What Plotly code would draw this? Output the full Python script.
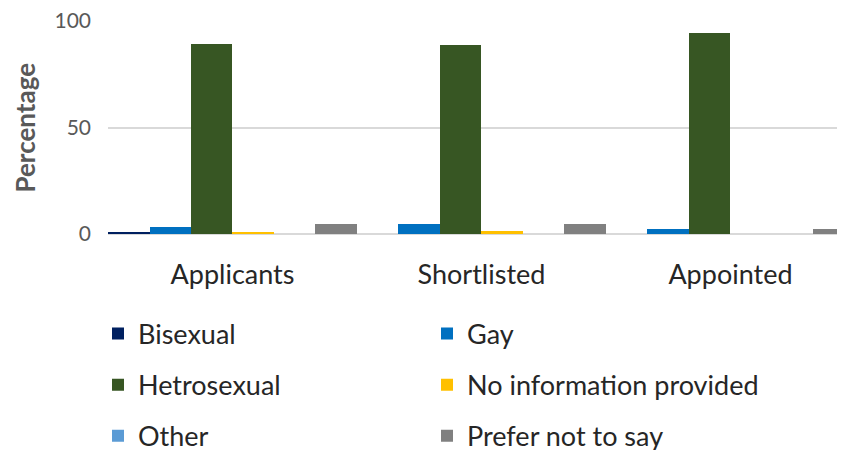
import plotly.graph_objects as go

# ─── Data ─────────────────────────────────────────────────────────────────────
STAGES = ["Applicants", "Shortlisted", "Appointed"]

bisexual     = [1.0, 0.0, 0.0]
gay          = [3.4, 4.6, 2.2]
hetrosexual  = [89.2, 88.7, 94.2]
no_info      = [0.8, 1.5, 0.0]
other        = [0.0, 0.0, 0.0]
prefer_not   = [4.6, 4.6, 2.2]

Y_TICKS = [0, 50, 100]
Y_TITLE = "Percentage"

# ─── Style ────────────────────────────────────────────────────────────────────
COLORS = {
    "Bisexual":                "#002060",
    "Gay":                     "#0070C0",
    "Hetrosexual":             "#375623",
    "No information provided": "#FFC000",
    "Other":                   "#5B9BD5",
    "Prefer not to say":       "#808080",
    "grid":                    "#D9D9D9",
    "axis_text":               "#595959",
    "text":                    "#262626",
}
FONT = "Lato, Carlito, Calibri, sans-serif"

# page has an 8px body margin, so the figure is drawn 8px smaller and offset
W, H = 837, 442
MARGIN_L = 100

series = ["Bisexual", "Gay", "Hetrosexual", "No information provided",
          "Other", "Prefer not to say"]
values = [bisexual, gay, hetrosexual, no_info, other, prefer_not]

# two legend columns, three rows each (container pixels, figure coords)
COL_X = [90, 419]
LEG_TOP = 301.5

fig = go.Figure()
for i, (name, vals) in enumerate(zip(series, values)):
    fig.add_trace(go.Bar(
        x=STAGES, y=vals, name=name,
        marker=dict(color=COLORS[name], line=dict(width=0)),
        legend="legend" if i % 2 == 0 else "legend2",
        legendgroup=name,
    ))

legend_common = dict(
    orientation="v", xref="container", yref="container",
    y=1 - LEG_TOP / H, xanchor="left", yanchor="top",
    tracegroupgap=13,
    font=dict(size=27, color=COLORS["text"], family=FONT),
    bgcolor="rgba(0,0,0,0)", itemclick=False,
)

# y-axis title as a rotated label left of the tick labels
fig.add_annotation(
    text=f"<b>{Y_TITLE}</b>", textangle=-90,
    xref="paper", yref="paper",
    x=(16 - MARGIN_L) / (W - MARGIN_L), y=0.5,
    xanchor="center", yanchor="middle", showarrow=False,
    font=dict(size=26, color=COLORS["axis_text"], family=FONT),
)

fig.update_layout(
    width=W, height=H,
    margin=dict(l=MARGIN_L, r=0, t=13, b=215.5, autoexpand=False),
    paper_bgcolor="white", plot_bgcolor="white",
    font=dict(family=FONT, color=COLORS["text"]),
    barmode="group", bargap=0, bargroupgap=0,
    legend=dict(x=COL_X[0] / W, **legend_common),
    legend2=dict(x=COL_X[1] / W, **legend_common),
    xaxis=dict(
        range=[-0.5, 2.46],
        showgrid=False, showline=False, ticks="",
        tickfont=dict(size=27, color=COLORS["text"], family=FONT),
        ticklabelstandoff=22,
    ),
    yaxis=dict(
        range=[0, 100], tickvals=Y_TICKS,
        showgrid=True, gridcolor=COLORS["grid"], gridwidth=1.5,
        zeroline=True, zerolinecolor=COLORS["grid"], zerolinewidth=2,
        showline=False, ticks="",
        tickfont=dict(size=21, color=COLORS["axis_text"], family=FONT),
        ticklabelstandoff=16, ticklabeloverflow="allow",
    ),
)

fig.write_html("out.html")
